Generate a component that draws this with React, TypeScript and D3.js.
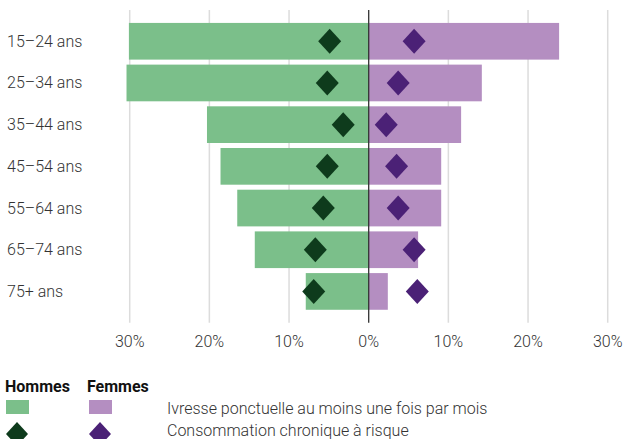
import React from "react";
import * as d3 from "d3";

const categories = ["15–24 ans", "25–34 ans", "35–44 ans", "45–54 ans", "55–64 ans", "65–74 ans", "75+ ans"];
const hommesIvresse = [30.1, 30.4, 20.3, 18.6, 16.5, 14.3, 7.9];
const femmesIvresse = [23.9, 14.2, 11.6, 9.1, 9.1, 6.2, 2.4];
const hommesChronique = [4.9, 5.2, 3.2, 5.2, 5.7, 6.7, 6.9];
const femmesChronique = [5.7, 3.7, 2.2, 3.5, 3.7, 5.7, 6.1];
const ticks = [-30, -20, -10, 0, 10, 20, 30];

const GREEN = "#7bbf8a";
const DARK_GREEN = "#0e3b1c";
const PURPLE = "#b48ec1";
const DARK_PURPLE = "#4b2176";
const FONT = "Roboto, sans-serif";

function diamond(cx: number, cy: number, hw: number, hh: number) {
  return `M${cx},${cy - hh}L${cx + hw},${cy}L${cx},${cy + hh}L${cx - hw},${cy}Z`;
}

export default function App() {
  const W = 624, H = 439;
  const x = d3.scaleLinear().domain([-30, 30]).range([129.7, 607.7]);
  const y = d3.scaleBand<string>().domain(categories).range([10, 322.7]).paddingInner(0.12).paddingOuter(0.31);
  const bw = y.bandwidth();
  const hw = 11.5, hh = 12.5;
  return (
    <svg width={W} height={H} style={{ position: "absolute", left: 0, top: 0 }} fontFamily={FONT}>
      {ticks.filter((t) => t !== 0).map((t) => (
        <line key={t} x1={x(t)} x2={x(t)} y1={10} y2={322.7} stroke="#dcdcdc" strokeWidth={1.5} />
      ))}
      {categories.map((c, i) => (
        <g key={c}>
          <rect x={x(-hommesIvresse[i])} y={y(c)} width={x(0) - x(-hommesIvresse[i])} height={bw} fill={GREEN} />
          <rect x={x(0)} y={y(c)} width={x(femmesIvresse[i]) - x(0)} height={bw} fill={PURPLE} />
        </g>
      ))}
      <line x1={x(0)} x2={x(0)} y1={10} y2={322.7} stroke="#333" strokeWidth={1.3} />
      {categories.map((c, i) => {
        const cy = (y(c) as number) + bw / 2;
        return (
          <g key={c + "d"}>
            <path d={diamond(x(-hommesChronique[i]), cy, hw, hh)} fill={DARK_GREEN} />
            <path d={diamond(x(femmesChronique[i]), cy, hw, hh)} fill={DARK_PURPLE} />
            <text x={7} y={cy} dominantBaseline="central" fontSize={16} fontWeight={300} fill="#333">{c}</text>
          </g>
        );
      })}
      {ticks.map((t) => (
        <text key={t} x={x(t)} y={346.5} textAnchor="middle" fontSize={16} fontWeight={300} fill="#333">
          {Math.abs(t) + "%"}
        </text>
      ))}
      <text x={5} y={392} fontSize={16} fontWeight={700} fill="#111">Hommes</text>
      <text x={87} y={392} fontSize={16} fontWeight={700} fill="#111">Femmes</text>
      <rect x={6} y={400} width={23} height={14} fill={GREEN} />
      <rect x={89} y={400} width={23} height={14} fill={PURPLE} />
      <text x={167} y={414} fontSize={16} fontWeight={300} fill="#333">Ivresse ponctuelle au moins une fois par mois</text>
      <path d={diamond(17, 434, 11, 12)} fill={DARK_GREEN} />
      <path d={diamond(100, 434, 11, 12)} fill={DARK_PURPLE} />
      <text x={167} y={436} fontSize={16} fontWeight={300} fill="#333">Consommation chronique à risque</text>
    </svg>
  );
}
